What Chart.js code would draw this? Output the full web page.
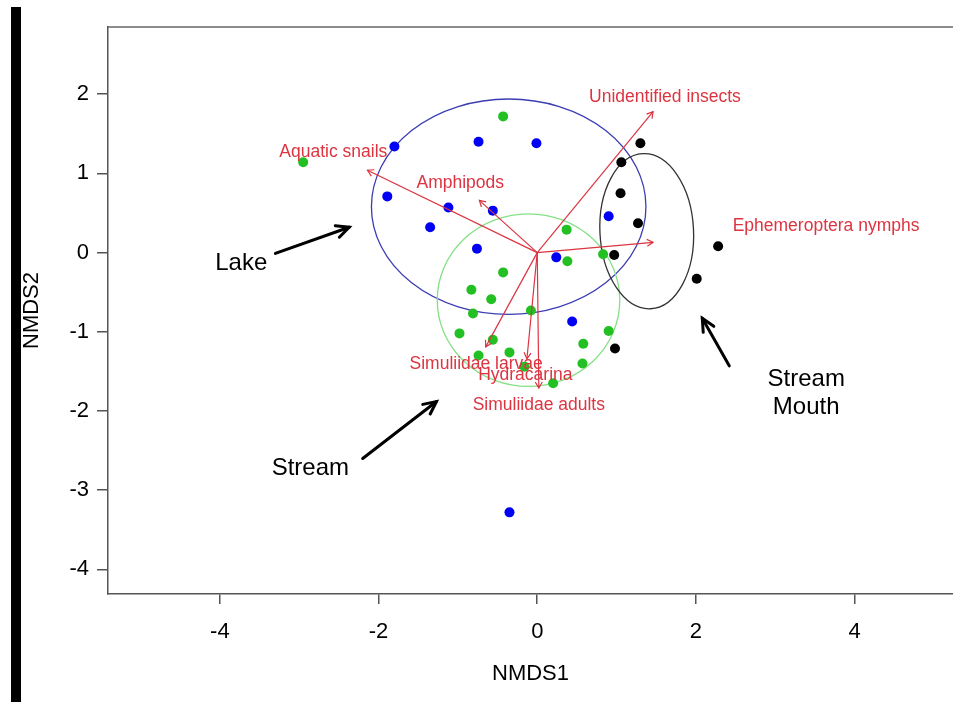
<!DOCTYPE html>
<html>
<head>
<meta charset="utf-8">
<script src="https://cdn.jsdelivr.net/npm/chart.js@4.4.1/dist/chart.umd.min.js"></script>
<style>
  body { margin: 0; background: #fff; }
  #wrap { position: relative; width: 953px; height: 702px; overflow: hidden; }
  #bar { position: absolute; left: 11px; top: 7px; width: 10px; height: 695px; background: #000; }
  canvas { position: absolute; left: 0; top: 0; }
</style>
</head>
<body>
<div id="wrap">
  <canvas id="nmds" width="958" height="702"></canvas>
  <div id="bar"></div>
</div>
<script>
// ---- site scores (NMDS1, NMDS2) ----
const lakeX = [-1.80, -1.89, -1.12, -1.35, -0.74, -0.01, -0.56, -0.76, 0.24, 0.90, 0.44, -0.35];
const lakeY = [1.34, 0.71, 0.57, 0.32, 1.40, 1.38, 0.53, 0.05, -0.06, 0.46, -0.87, -3.28];

const streamX = [-2.95, -0.43, 0.37, 0.38, -0.43, 0.83, -0.83, -0.58, -0.81, -0.08, -0.98, -0.56, 0.90, 0.58, -0.74, -0.35, -0.16, 0.57, 0.20];
const streamY = [1.14, 1.72, 0.29, -0.11, -0.25, -0.02, -0.47, -0.59, -0.77, -0.73, -1.02, -1.10, -0.99, -1.15, -1.30, -1.26, -1.44, -1.40, -1.65];

const mouthX = [1.30, 1.06, 1.05, 1.27, 0.97, 2.28, 2.01, 0.98];
const mouthY = [1.38, 1.14, 0.75, 0.37, -0.03, 0.08, -0.33, -1.21];

// ---- fitted taxa vectors ----
const taxa = ["Unidentified insects", "Aquatic snails", "Amphipods", "Ephemeroptera nymphs",
              "Simuliidae larvae", "Hydracarina", "Simuliidae adults"];
const vecX = [1.46, -2.14, -0.73, 1.46, -0.65, -0.13, 0.02];
const vecY = [1.78, 1.04, 0.66, 0.13, -1.19, -1.34, -1.71];
const taxaLabelX = [1.61, -2.57, -0.97, 3.64, -0.77, -0.15, 0.02];
const taxaLabelY = [1.96, 1.27, 0.88, 0.33, -1.41, -1.55, -1.93];

// ---- group ellipses: centre, radii (data units) ----
const ellipseX = [-0.36, -0.11, 1.38];
const ellipseY = [0.58, -0.60, 0.27];
const ellipseRX = [1.73, 1.15, 0.59];
const ellipseRY = [1.36, 1.09, 0.98];
const ellipseTilt = [0, 0, -0.05];
const ellipseColor = ["#3c3cb4", "#86e086", "#333333"];

const xTicks = [-4, -2, 0, 2, 4];
const yTicks = [-4, -3, -2, -1, 0, 1, 2];

const FONT = '"Liberation Sans", Arial, sans-serif';
const RED = "#dc3440";

const toPts = (xs, ys) => xs.map((x, i) => ({ x: x, y: ys[i] }));

// -------------------- hjälpfunktioner --------------------
function arrowHead(ctx, x1, y1, x2, y2, len, ang) {
  const a = Math.atan2(y2 - y1, x2 - x1);
  ctx.beginPath();
  ctx.moveTo(x2 - len * Math.cos(a - ang), y2 - len * Math.sin(a - ang));
  ctx.lineTo(x2, y2);
  ctx.lineTo(x2 - len * Math.cos(a + ang), y2 - len * Math.sin(a + ang));
  ctx.stroke();
}

const ordPlugin = {
  id: "ord",
  beforeDatasetsDraw(chart) {
    const { ctx, chartArea, scales: { x, y } } = chart;
    ctx.save();
    // top frame line
    ctx.strokeStyle = "#666";
    ctx.lineWidth = 1.5;
    ctx.beginPath();
    ctx.moveTo(chartArea.left, chartArea.top);
    ctx.lineTo(chart.width, chartArea.top);
    ctx.stroke();

    ctx.lineWidth = 1.3;
    ellipseX.forEach((cx, i) => {
      const px = x.getPixelForValue(cx);
      const py = y.getPixelForValue(ellipseY[i]);
      const rx = Math.abs(x.getPixelForValue(cx + ellipseRX[i]) - px);
      const ry = Math.abs(y.getPixelForValue(ellipseY[i] + ellipseRY[i]) - py);
      ctx.strokeStyle = ellipseColor[i];
      ctx.beginPath();
      ctx.ellipse(px, py, rx, ry, ellipseTilt[i], 0, Math.PI * 2);
      ctx.stroke();
    });
    ctx.restore();
  },
  afterDatasetsDraw(chart) {
    const { ctx, scales: { x, y } } = chart;
    const px = v => x.getPixelForValue(v);
    const py = v => y.getPixelForValue(v);
    ctx.save();

    // arrowheads on the vectors
    ctx.strokeStyle = RED;
    ctx.lineWidth = 1.2;
    vecX.forEach((vx, i) => {
      arrowHead(ctx, px(0), py(0), px(vx), py(vecY[i]), 7, Math.PI / 6);
    });

    // taxa labels
    ctx.fillStyle = RED;
    ctx.font = "17.5px " + FONT;
    ctx.textAlign = "center";
    ctx.textBaseline = "middle";
    taxa.forEach((t, i) => ctx.fillText(t, px(taxaLabelX[i]), py(taxaLabelY[i])));

    // group annotations
    ctx.fillStyle = "#000";
    ctx.font = "24px " + FONT;
    ctx.fillText("Lake", px(-3.73), py(-0.13));
    ctx.fillText("Stream", px(-2.86), py(-2.72));
    ctx.fillText("Stream", px(3.39), py(-1.60));
    ctx.fillText("Mouth", px(3.39), py(-1.96));

    ctx.strokeStyle = "#000";
    ctx.lineWidth = 3;
    ctx.lineCap = "round";
    [[-3.30, -0.01, -2.37, 0.32], [-2.20, -2.60, -1.27, -1.88], [2.42, -1.43, 2.08, -0.83]].forEach(a => {
      ctx.beginPath();
      ctx.moveTo(px(a[0]), py(a[1]));
      ctx.lineTo(px(a[2]), py(a[3]));
      ctx.stroke();
      arrowHead(ctx, px(a[0]), py(a[1]), px(a[2]), py(a[3]), 14, Math.PI / 7);
    });
    ctx.restore();
  }
};

const vectorSets = vecX.map((vx, i) => ({
  label: taxa[i],
  data: [{ x: 0, y: 0 }, { x: vx, y: vecY[i] }],
  showLine: true,
  borderColor: RED,
  borderWidth: 1.2,
  pointRadius: 0,
  order: 1
}));

const dot = (label, xs, ys, col) => ({
  label: label,
  data: toPts(xs, ys),
  backgroundColor: col,
  borderColor: col,
  pointRadius: 5,
  pointBorderWidth: 0,
  order: 2
});

const axisFont = { family: FONT, size: 22 };

new Chart(document.getElementById("nmds"), {
  type: "scatter",
  data: {
    datasets: [
      dot("Lake", lakeX, lakeY, "#0000f5"),
      dot("Stream", streamX, streamY, "#22c022"),
      dot("Stream Mouth", mouthX, mouthY, "#000000"),
      ...vectorSets
    ]
  },
  options: {
    responsive: false,
    animation: false,
    layout: { padding: { top: 27, left: 0, right: 0, bottom: 0 } },
    plugins: { legend: { display: false }, tooltip: { enabled: false } },
    scales: {
      x: {
        type: "linear",
        min: -5.41,
        max: 5.24,
        afterBuildTicks: s => { s.ticks = xTicks.map(v => ({ value: v })); },
        afterFit: s => { s.height = 108; },
        grid: { drawOnChartArea: false, drawTicks: true, tickLength: 10, color: "#555", lineWidth: 1.5 },
        border: { display: true, color: "#555", width: 1.5 },
        ticks: { font: axisFont, color: "#000", padding: 15, maxRotation: 0 },
        title: { display: true, text: "NMDS1", font: axisFont, color: "#000", padding: { top: 0, bottom: 15 } }
      },
      y: {
        type: "linear",
        min: -4.311,
        max: 2.849,
        afterBuildTicks: s => { s.ticks = yTicks.map(v => ({ value: v })); },
        afterFit: s => { s.width = 108; },
        grid: { drawOnChartArea: false, drawTicks: true, tickLength: 11, color: "#555", lineWidth: 1.5 },
        border: { display: true, color: "#555", width: 1.5 },
        ticks: { font: axisFont, color: "#000", padding: 8 },
        title: { display: true, text: "NMDS2", font: axisFont, color: "#000", padding: { top: 19, bottom: 0 } }
      }
    }
  },
  plugins: [ordPlugin]
});
</script>
</body>
</html>
